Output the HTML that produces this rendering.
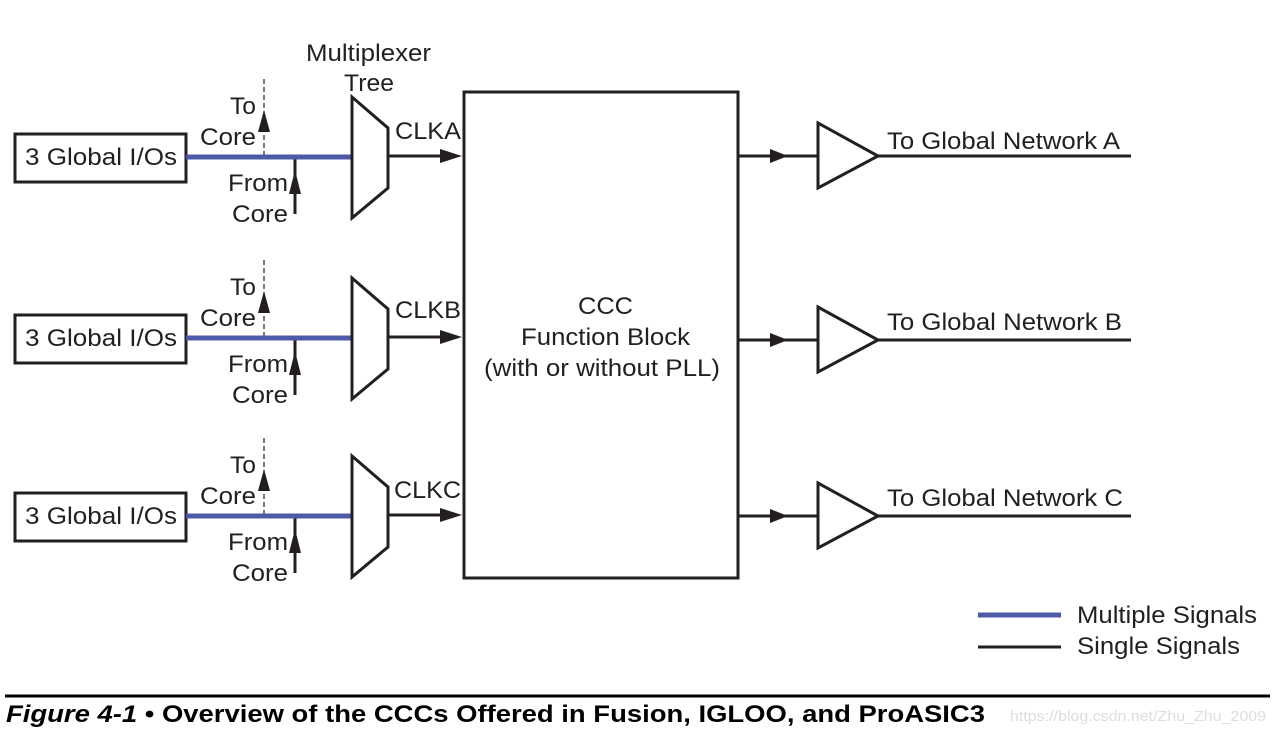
<!DOCTYPE html>
<html><head><meta charset="utf-8"><style>
html,body{margin:0;padding:0;background:#fff;}
svg{display:block;}
text{font-family:"Liberation Sans",Arial,sans-serif;fill:#231f20;}
</style></head><body>
<svg width="1274" height="734" viewBox="0 0 1274 734" xmlns="http://www.w3.org/2000/svg">
<defs>
<g id="row">
  <rect x="15" y="134" width="171" height="48" fill="none" stroke="#231f20" stroke-width="3"/>
  <text x="25" y="165" font-size="24" textLength="152" lengthAdjust="spacingAndGlyphs">3 Global I/Os</text>
  <line x1="264" y1="79" x2="264" y2="157" stroke="#231f20" stroke-width="1.2" stroke-dasharray="5,3"/>
  <polygon points="264,110 258,132 270,132" fill="#231f20"/>
  <line x1="295" y1="157" x2="295" y2="214" stroke="#231f20" stroke-width="3"/>
  <polygon points="295,170 289,194 301,194" fill="#231f20"/>
  <line x1="186" y1="157" x2="352" y2="157" stroke="#4d5aa8" stroke-width="5"/>
  <text x="230" y="114" font-size="24" textLength="26" lengthAdjust="spacingAndGlyphs">To</text>
  <text x="200" y="145" font-size="24" textLength="56" lengthAdjust="spacingAndGlyphs">Core</text>
  <text x="228" y="191" font-size="24" textLength="60" lengthAdjust="spacingAndGlyphs">From</text>
  <text x="232" y="222" font-size="24" textLength="56" lengthAdjust="spacingAndGlyphs">Core</text>
  <polygon points="352,97 388,128 388,188 352,218" fill="#fff" stroke="#231f20" stroke-width="3"/>
  <line x1="388" y1="156" x2="445" y2="156" stroke="#231f20" stroke-width="3"/>
  <polygon points="462,156 440,149 440,163" fill="#231f20"/>
</g>
<g id="out">
  <line x1="738" y1="156" x2="818" y2="156" stroke="#231f20" stroke-width="3"/>
  <polygon points="788,156 770,149 770,163" fill="#231f20"/>
  <polygon points="818,123 818,188 878,156" fill="#fff" stroke="#231f20" stroke-width="3"/>
  <line x1="878" y1="156" x2="1131" y2="156" stroke="#231f20" stroke-width="3"/>
</g>
</defs>
<text x="306" y="61" font-size="24" textLength="125" lengthAdjust="spacingAndGlyphs">Multiplexer</text>
<text x="344" y="91" font-size="24" textLength="50" lengthAdjust="spacingAndGlyphs">Tree</text>
<use href="#row"/>
<use href="#row" transform="translate(0,181)"/>
<use href="#row" transform="translate(0,359)"/>
<text x="395" y="139" font-size="24" textLength="66" lengthAdjust="spacingAndGlyphs">CLKA</text>
<text x="395" y="318" font-size="24" textLength="66" lengthAdjust="spacingAndGlyphs">CLKB</text>
<text x="394" y="498" font-size="24" textLength="67" lengthAdjust="spacingAndGlyphs">CLKC</text>
<rect x="464" y="92" width="274" height="486" fill="none" stroke="#231f20" stroke-width="3"/>
<text x="578" y="314" font-size="24" textLength="55" lengthAdjust="spacingAndGlyphs">CCC</text>
<text x="521" y="345" font-size="24" textLength="169" lengthAdjust="spacingAndGlyphs">Function Block</text>
<text x="484" y="376" font-size="24" textLength="236" lengthAdjust="spacingAndGlyphs">(with or without PLL)</text>
<use href="#out"/>
<use href="#out" transform="translate(0,184)"/>
<use href="#out" transform="translate(0,360)"/>
<text x="887" y="149" font-size="24" textLength="233" lengthAdjust="spacingAndGlyphs">To Global Network A</text>
<text x="887" y="330" font-size="24" textLength="235" lengthAdjust="spacingAndGlyphs">To Global Network B</text>
<text x="887" y="506" font-size="24" textLength="236" lengthAdjust="spacingAndGlyphs">To Global Network C</text>
<line x1="978" y1="615" x2="1061" y2="615" stroke="#4d5aa8" stroke-width="5"/>
<line x1="978" y1="647" x2="1061" y2="647" stroke="#231f20" stroke-width="3"/>
<text x="1077" y="623" font-size="24" textLength="180" lengthAdjust="spacingAndGlyphs">Multiple Signals</text>
<text x="1077" y="654" font-size="24" textLength="163" lengthAdjust="spacingAndGlyphs">Single Signals</text>
<line x1="5" y1="696" x2="1270" y2="696" stroke="#000" stroke-width="3"/>
<text x="6" y="722" font-size="24" font-weight="bold" style="fill:#000" textLength="979" lengthAdjust="spacingAndGlyphs"><tspan font-style="italic">Figure 4-1</tspan> • Overview of the CCCs Offered in Fusion, IGLOO, and ProASIC3</text>
<text x="1010" y="721" font-size="15" style="fill:#ddd" textLength="256" lengthAdjust="spacingAndGlyphs">https://blog.csdn.net/Zhu_Zhu_2009</text>
</svg>
</body></html>
